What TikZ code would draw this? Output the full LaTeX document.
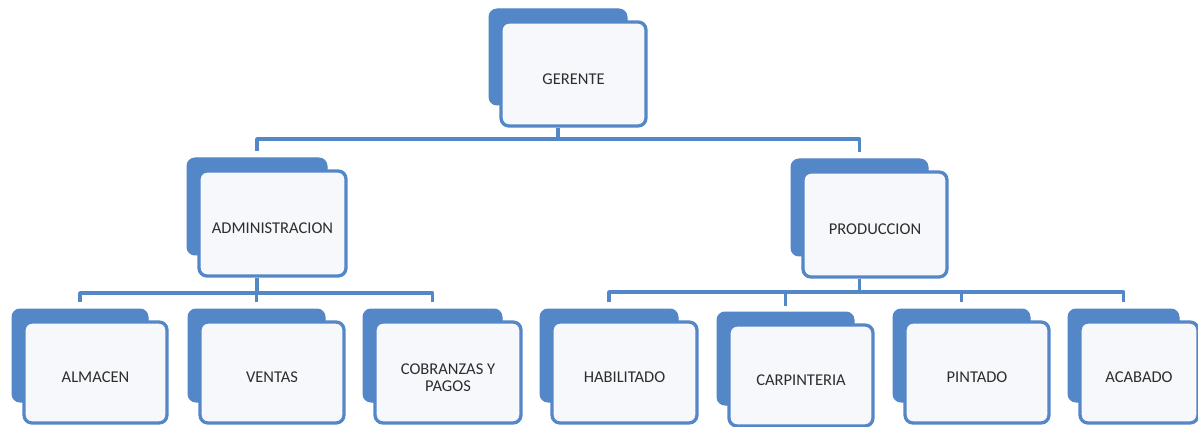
\documentclass[tikz,border=0pt]{standalone}
\usepackage{fontspec}
\setmainfont{Carlito}
\definecolor{orgblue}{RGB}{84,135,199}
\definecolor{frontfill}{RGB}{246,248,252}
\definecolor{txtgray}{RGB}{45,45,45}
\tikzset{
  backbox/.style={draw=orgblue, fill=orgblue, line width=1pt, rounded corners=8pt, inner sep=0pt},
  frontbox/.style={draw=orgblue, fill=frontfill, line width=3.3pt, rounded corners=8pt, inner sep=0pt},
  lbl/.style={text=txtgray, font=\fontsize{16.5}{17}\selectfont, align=center, inner sep=0pt},
  conn/.style={draw=orgblue, line width=3.5pt, line join=round}
}
\newcommand\orgunit[6]{%
  \pgfmathsetmacro\ouCx{(#2+#4)/2}\pgfmathsetmacro\ouCy{(#3+#5)/2}%
  \pgfmathsetmacro\ouW{#4-#2}\pgfmathsetmacro\ouH{#5-#3}%
  \node[backbox, minimum width=\ouW pt, minimum height=\ouH pt] (b-#1) at (\ouCx,\ouCy) {};
  \pgfmathsetmacro\ouFx{\ouCx+15.5}\pgfmathsetmacro\ouFy{\ouCy+17}%
  \pgfmathsetmacro\ouFw{\ouW+7}\pgfmathsetmacro\ouFh{\ouH+8}%
  \node[frontbox, minimum width=\ouFw pt, minimum height=\ouFh pt] (f-#1) at (\ouFx,\ouFy) {};
  \node[lbl] (t-#1) at ([yshift=-5pt]f-#1.center) {#6};
}
\begin{document}
\begin{tikzpicture}[x=1pt,y=-1pt]
\useasboundingbox (0,0) rectangle (1198,427);
\fill[white] (0,0) rectangle (1198,427);
\orgunit{ger}{489}{9}{627}{105}{GERENTE}
\orgunit{adm}{187}{158}{327}{255}{ADMINISTRACION}
\orgunit{prd}{791}{159}{928}{256}{PRODUCCION}
\orgunit{alm}{12}{309}{148}{402}{ALMACEN}
\orgunit{ven}{188}{309}{325}{402}{VENTAS}
\orgunit{cob}{363}{309}{502}{402}{COBRANZAS Y\\PAGOS}
\orgunit{hab}{540}{309}{678}{402}{HABILITADO}
\orgunit{car}{717}{312}{854}{405}{CARPINTERIA}
\orgunit{pin}{893}{309}{1030}{402}{PINTADO}
\orgunit{aca}{1068}{309}{1179}{402}{ACABADO}
\coordinate (busT) at (0,139);
\coordinate (busL) at (0,293);
\coordinate (busR) at (0,292);
% top level
\draw[conn] (f-ger.south -| b-ger.center) -- (busT -| b-ger.center);
\draw[conn] ([yshift=6pt]b-adm.north) -- (busT -| b-adm.north) -- (busT -| b-prd.north) -- ([yshift=6pt]b-prd.north);
% left group
\draw[conn] (f-adm.south -| b-adm.center) -- (busL -| b-adm.center);
\draw[conn] ([yshift=6pt]b-alm.north) -- (busL -| b-alm.north) -- (busL -| b-cob.north) -- ([yshift=6pt]b-cob.north);
\draw[conn] (busL -| b-ven.north) -- ([yshift=6pt]b-ven.north);
% right group
\draw[conn] (f-prd.south -| b-prd.center) -- (busR -| b-prd.center);
\draw[conn] ([yshift=6pt]b-hab.north) -- (busR -| b-hab.north) -- (busR -| b-aca.north) -- ([yshift=6pt]b-aca.north);
\draw[conn] (busR -| b-car.north) -- ([yshift=6pt]b-car.north);
\draw[conn] (busR -| b-pin.north) -- ([yshift=6pt]b-pin.north);
\end{tikzpicture}
\end{document}
